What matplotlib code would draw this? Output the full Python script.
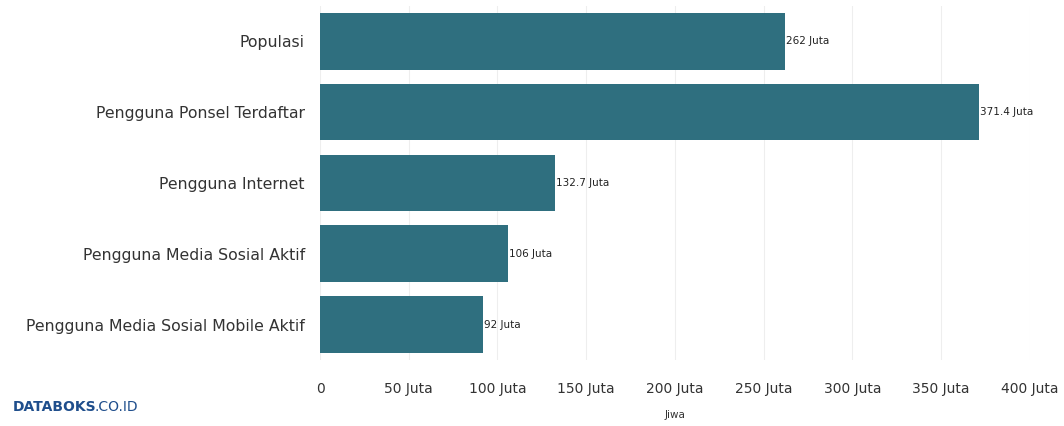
import matplotlib
matplotlib.use('Agg')
import matplotlib.pyplot as plt

# data
kategori = ['Populasi', 'Pengguna Ponsel Terdaftar', 'Pengguna Internet',
            'Pengguna Media Sosial Aktif', 'Pengguna Media Sosial Mobile Aktif']
nilai = [262, 371.4, 132.7, 106, 92]
label_nilai = ['262 Juta', '371.4 Juta', '132.7 Juta', '106 Juta', '92 Juta']
xticks = [0, 50, 100, 150, 200, 250, 300, 350, 400]
xtick_label = ['0', '50 Juta', '100 Juta', '150 Juta', '200 Juta', '250 Juta',
               '300 Juta', '350 Juta', '400 Juta']

warna = '#2f6f7f'

fig = plt.figure(figsize=(10.64, 4.26), dpi=100)
ax = fig.add_axes([0.3008, 0.155, 0.667, 0.831])

y = list(range(len(kategori)))
ax.barh(y, nilai, height=0.8, color=warna)
for i in y:
    ax.text(nilai[i] + 0.5, i, label_nilai[i], va='center', ha='left', fontsize=7.5, color='#222222')

ax.set_yticks(y)
ax.set_yticklabels(kategori, fontsize=11.3, color='#333333')
ax.invert_yaxis()
ax.set_ylim(4.5, -0.5)
ax.set_xlim(0, 400)
ax.set_xticks(xticks)
ax.set_xticklabels(xtick_label, fontsize=10, color='#333333')
ax.tick_params(axis='x', length=0, pad=16)
ax.tick_params(axis='y', length=0, pad=11)
ax.grid(axis='x', color='#eeeeee', linewidth=0.8)
ax.set_axisbelow(True)
for s in ax.spines.values():
    s.set_visible(False)
ax.set_xlabel('Jiwa', fontsize=7.5, color='#333333', labelpad=10)

fig.text(0.012, 0.035, 'DATABOKS', fontsize=10, fontweight='bold', color='#1f4e8c')
fig.text(0.089, 0.035, '.CO.ID', fontsize=10, color='#1f4e8c')

fig.savefig('out.png', dpi=100)
